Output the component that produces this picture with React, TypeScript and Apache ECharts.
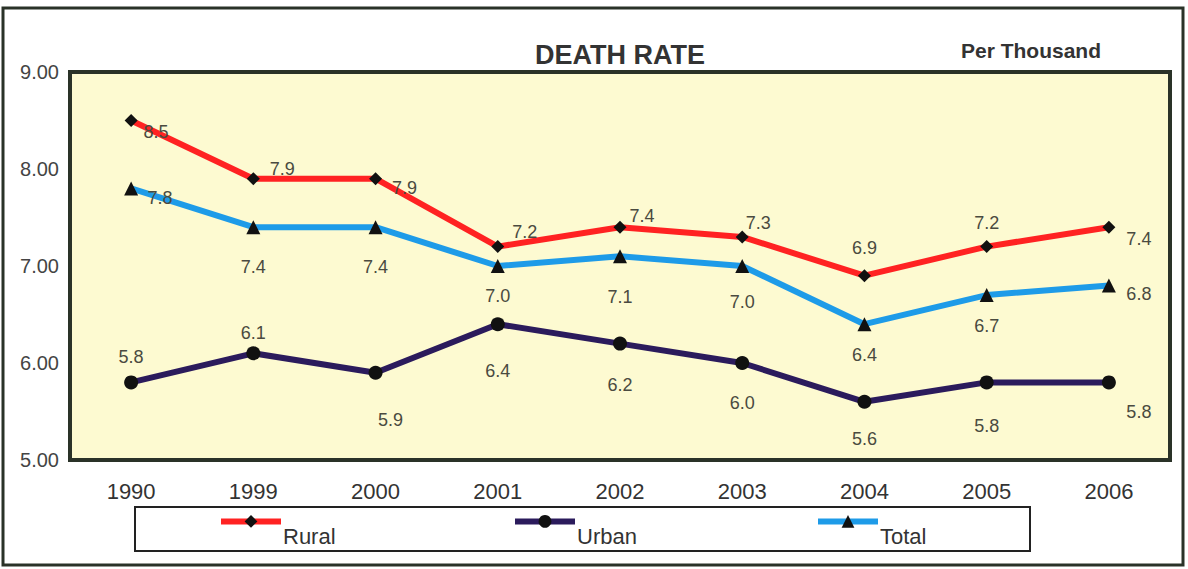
import React, { useEffect, useRef } from "react";
import * as echarts from "echarts";

const years = ["1990", "1999", "2000", "2001", "2002", "2003", "2004", "2005", "2006"];
const rural = [8.5, 7.9, 7.9, 7.2, 7.4, 7.3, 6.9, 7.2, 7.4];
const urban = [5.8, 6.1, 5.9, 6.4, 6.2, 6.0, 5.6, 5.8, 5.8];
const total = [7.8, 7.4, 7.4, 7.0, 7.1, 7.0, 6.4, 6.7, 6.8];
const yTicks = [5, 6, 7, 8, 9];
const seriesNames = ["Rural", "Urban", "Total"];

// label placement offsets (dx, dy) from each point
const ruralLabelOffsets = [[25, 11], [29, -10], [29, 9], [27, -15], [22, -11], [16, -14], [0, -28], [0, -24], [30, 12]];
const totalLabelOffsets = [[29, 10], [0, 40], [0, 40], [0, 30], [0, 41], [0, 36], [0, 31], [0, 31], [30, 9]];
const urbanLabelOffsets = [[0, -25], [0, -20], [15, 47], [0, 47], [0, 41], [0, 40], [0, 37], [0, 44], [30, 30]];
const legendLefts = [218, 512, 815];

const FONT = "'Liberation Sans', Arial, sans-serif";

function withLabels(values: number[], offsets: number[][]) {
  return values.map((v, i) => ({
    value: v,
    label: {
      show: true,
      position: "inside",
      offset: offsets[i],
      formatter: v.toFixed(1),
      color: "#4a4a40",
      fontSize: 18,
      fontFamily: FONT,
    },
  }));
}

export default function App() {
  const ref = useRef<HTMLDivElement>(null);
  useEffect(() => {
    if (!ref.current) return;
    const chart = echarts.init(ref.current, null, { renderer: "svg" });
    const legends = seriesNames.map((name, i) => ({
      left: legendLefts[i],
      top: 515,
      padding: 0,
      itemWidth: 60,
      itemHeight: 16,
      itemGap: 0,
      lineStyle: { width: 6 },
      itemStyle: { borderWidth: 0 },
      formatter: (n: string) => `{t|${n}}`,
      textStyle: {
        rich: {
          t: {
            fontFamily: FONT,
            fontSize: 22,
            color: "#333",
            padding: [30, 0, 0, -3],
          },
        },
      },
      data: [name],
    }));
    const option: any = {
      animation: false,
      backgroundColor: "#ffffff",
      title: [
        {
          text: "DEATH RATE",
          left: 615,
          top: 36,
          textAlign: "center",
          textStyle: { fontFamily: FONT, fontSize: 27, fontWeight: "bold", color: "#333" },
        },
        {
          text: "Per Thousand",
          left: 1026,
          top: 35,
          textAlign: "center",
          textStyle: { fontFamily: FONT, fontSize: 21, fontWeight: "bold", color: "#333" },
        },
      ],
      grid: {
        left: 70,
        right: 18,
        top: 72,
        bottom: 109,
        show: true,
        backgroundColor: "#fdfad1",
        borderColor: "#2a3228",
        borderWidth: 4,
      },
      legend: legends,
      xAxis: {
        type: "category",
        data: years,
        boundaryGap: true,
        axisLine: { show: false },
        axisTick: { show: false },
        axisLabel: { fontFamily: FONT, fontSize: 22, color: "#333", margin: 20 },
      },
      yAxis: {
        type: "value",
        min: yTicks[0],
        max: yTicks[yTicks.length - 1],
        interval: 1,
        splitLine: { show: false },
        axisLine: { show: false },
        axisTick: { show: false },
        axisLabel: {
          fontFamily: FONT,
          fontSize: 20,
          color: "#444",
          margin: 11,
          formatter: (v: number) => v.toFixed(2),
        },
      },
      series: [
        {
          name: "Rural",
          type: "line",
          data: withLabels(rural, ruralLabelOffsets),
          lineStyle: { color: "#ff2222", width: 6 },
          itemStyle: { color: "#111" },
          symbol: "diamond",
          symbolSize: 13,
          z: 3,
        },
        {
          name: "Urban",
          type: "line",
          data: withLabels(urban, urbanLabelOffsets),
          lineStyle: { color: "#2b1b5c", width: 6 },
          itemStyle: { color: "#111" },
          symbol: "circle",
          symbolSize: 14,
          z: 3,
        },
        {
          name: "Total",
          type: "line",
          data: withLabels(total, totalLabelOffsets),
          lineStyle: { color: "#1e9be8", width: 6 },
          itemStyle: { color: "#111" },
          symbol: "triangle",
          symbolSize: 14,
          z: 3,
        },
      ],
      graphic: [
        {
          type: "rect",
          shape: { x: 3, y: 8, width: 1180, height: 557 },
          style: { fill: "none", stroke: "#2a3228", lineWidth: 3 },
          z: -1,
        },
        {
          type: "rect",
          shape: { x: 135, y: 507, width: 895, height: 44 },
          style: { fill: "none", stroke: "#222", lineWidth: 2 },
        },
      ],
    };
    chart.setOption(option);
    return () => chart.dispose();
  }, []);
  return (
    <div
      ref={ref}
      style={{ position: "fixed", left: 0, top: 0, width: 1188, height: 569 }}
    />
  );
}
